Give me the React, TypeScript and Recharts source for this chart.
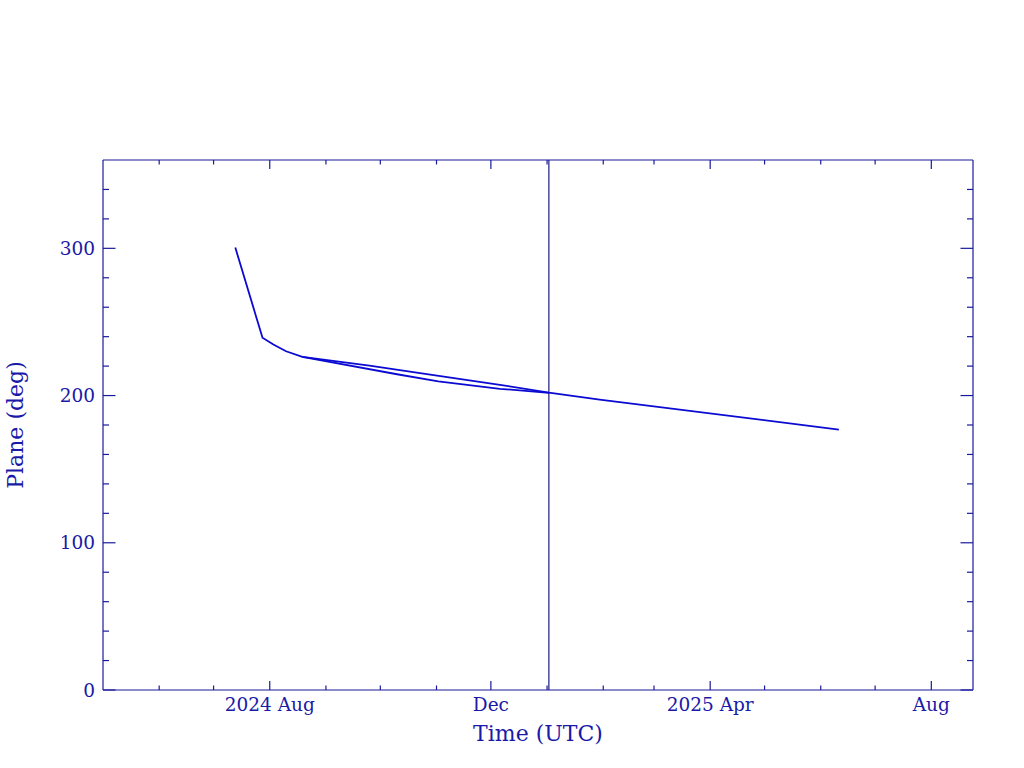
import React from 'react';
import {
  ComposedChart,
  Line,
  XAxis,
  YAxis,
  ReferenceLine,
  Label,
} from 'recharts';

// observed orbit plane (lower branch, ends at the marker date)
const OBS_DATES = ['2024-07-13', '2024-07-28', '2024-08-03', '2024-08-10', '2024-08-19', '2024-10-11', '2024-11-02', '2024-12-06', '2025-01-02'];
const OBS_PLANE = [300.5, 239.3, 234.7, 230.1, 226.3, 214.3, 209.7, 204.6, 201.8];

// predicted plane (upper branch and extension)
const PRED_DATES = ['2024-08-19', '2024-09-25', '2024-10-22', '2024-12-06', '2025-01-02', '2025-01-30', '2025-06-11'];
const PRED_PLANE = [226.3, 220.4, 215.4, 207.3, 202.0, 197.3, 176.9];

const NOW_DATE = '2025-01-02';
const X_START = '2024-05-01';
const X_END = '2025-08-24';

const MONTH_TICKS = [
  '2024-06-01', '2024-07-01', '2024-08-01', '2024-09-01', '2024-10-01', '2024-11-01', '2024-12-01',
  '2025-01-01', '2025-02-01', '2025-03-01', '2025-04-01', '2025-05-01', '2025-06-01', '2025-07-01', '2025-08-01',
];
const MAJOR_LABELS: Record<string, string> = {
  '2024-08-01': '2024 Aug',
  '2024-12-01': 'Dec',
  '2025-04-01': '2025 Apr',
  '2025-08-01': 'Aug',
};
const Y_TICKS = [0, 20, 40, 60, 80, 100, 120, 140, 160, 180, 200, 220, 240, 260, 280, 300, 320, 340];
const Y_LABELS = [0, 100, 200, 300];

const AXIS = '#1a1a9c';
const TEXT = '#1a1aa8';
const DATA = '#0a0ad2';
const FONT = '"DejaVu Serif", serif';

const toT = (s: string) => {
  const [y, m, d] = s.split('-').map(Number);
  return Date.UTC(y, m - 1, d);
};

const obsRows = OBS_DATES.map((d, i) => ({ t: toT(d), plane: OBS_PLANE[i] }));
const predRows = PRED_DATES.map((d, i) => ({ t: toT(d), plane: PRED_PLANE[i] }));
const xTicks = MONTH_TICKS.map(toT);
const labelByT = new Map(Object.keys(MAJOR_LABELS).map((k) => [toT(k), MAJOR_LABELS[k]]));

const BottomTick = (props: any) => {
  const { x, y, payload } = props;
  const axisY = y - 8;
  const label = labelByT.get(payload.value);
  const len = label ? 9 : 4.5;
  return (
    <g>
      <line x1={x} x2={x} y1={axisY} y2={axisY - len} stroke={AXIS} strokeWidth={1.2} />
      {label && (
        <text x={x} y={y} dy="0.72em" textAnchor="middle" fill={TEXT} fontSize={18.5} fontFamily={FONT}>
          {label}
        </text>
      )}
    </g>
  );
};

const TopTick = (props: any) => {
  const { x, y, payload } = props;
  const len = labelByT.has(payload.value) ? 9 : 4.5;
  return <line x1={x} x2={x} y1={y} y2={y + len} stroke={AXIS} strokeWidth={1.2} />;
};

const LeftTick = (props: any) => {
  const { x, y, payload } = props;
  const axisX = x + 8;
  const major = Y_LABELS.includes(payload.value);
  const len = major ? 12.5 : 6;
  return (
    <g>
      <line x1={axisX} x2={axisX + len} y1={y} y2={y} stroke={AXIS} strokeWidth={1.2} />
      {major && (
        <text x={x} y={y} dy="0.36em" textAnchor="end" fill={TEXT} fontSize={18.5} fontFamily={FONT}>
          {payload.value}
        </text>
      )}
    </g>
  );
};

const RightTick = (props: any) => {
  const { x, y, payload } = props;
  const len = Y_LABELS.includes(payload.value) ? 12.5 : 6;
  return <line x1={x} x2={x - len} y1={y} y2={y} stroke={AXIS} strokeWidth={1.2} />;
};

export default function App() {
  const domain = [toT(X_START), toT(X_END)];
  return (
    <div style={{ position: 'absolute', left: 0, top: 0, width: 1024, height: 768, background: '#fff' }}>
      <ComposedChart width={1024} height={768} margin={{ top: 140, right: 31, bottom: 0, left: 0 }}>
        <XAxis
          xAxisId="main"
          dataKey="t"
          type="number"
          domain={domain}
          allowDataOverflow
          ticks={xTicks}
          tick={<BottomTick />}
          tickLine={false}
          tickSize={0}
          tickMargin={8}
          interval={0}
          height={78}
          axisLine={{ stroke: AXIS, strokeWidth: 1.2 }}
        >
          <Label value="Time (UTC)" position="insideBottom" offset={27} fill={TEXT} fontSize={22} fontFamily={FONT} />
        </XAxis>
        <XAxis
          xAxisId="top"
          orientation="top"
          dataKey="t"
          type="number"
          domain={domain}
          allowDataOverflow
          ticks={xTicks}
          tick={<TopTick />}
          tickLine={false}
          tickSize={0}
          tickMargin={0}
          interval={0}
          height={20}
          axisLine={{ stroke: AXIS, strokeWidth: 1.2 }}
        />
        <YAxis
          yAxisId="main"
          type="number"
          domain={[0, 360]}
          allowDataOverflow
          ticks={Y_TICKS}
          tick={<LeftTick />}
          tickLine={false}
          tickSize={0}
          tickMargin={8}
          interval={0}
          width={103}
          axisLine={{ stroke: AXIS, strokeWidth: 1.2 }}
        >
          <Label
            value="Plane (deg)"
            angle={-90}
            position="insideLeft"
            offset={15}
            fill={TEXT}
            fontSize={22}
            fontFamily={FONT}
            style={{ textAnchor: 'middle' }}
          />
        </YAxis>
        <YAxis
          yAxisId="right"
          orientation="right"
          type="number"
          domain={[0, 360]}
          allowDataOverflow
          ticks={Y_TICKS}
          tick={<RightTick />}
          tickLine={false}
          tickSize={0}
          tickMargin={0}
          interval={0}
          width={20}
          axisLine={{ stroke: AXIS, strokeWidth: 1.2 }}
        />
        {/* keeps the mirrored axes bound to data */}
        <Line
          xAxisId="top"
          yAxisId="right"
          data={obsRows}
          dataKey="plane"
          stroke="none"
          dot={false}
          activeDot={false}
          isAnimationActive={false}
        />
        <ReferenceLine xAxisId="main" yAxisId="main" x={toT(NOW_DATE)} stroke="#1a1a80" strokeWidth={1.2} />
        <Line
          xAxisId="main"
          yAxisId="main"
          data={obsRows}
          dataKey="plane"
          type="linear"
          stroke={DATA}
          strokeWidth={1.8}
          dot={false}
          activeDot={false}
          isAnimationActive={false}
        />
        <Line
          xAxisId="main"
          yAxisId="main"
          data={predRows}
          dataKey="plane"
          type="linear"
          stroke={DATA}
          strokeWidth={1.8}
          dot={false}
          activeDot={false}
          isAnimationActive={false}
        />
      </ComposedChart>
    </div>
  );
}
